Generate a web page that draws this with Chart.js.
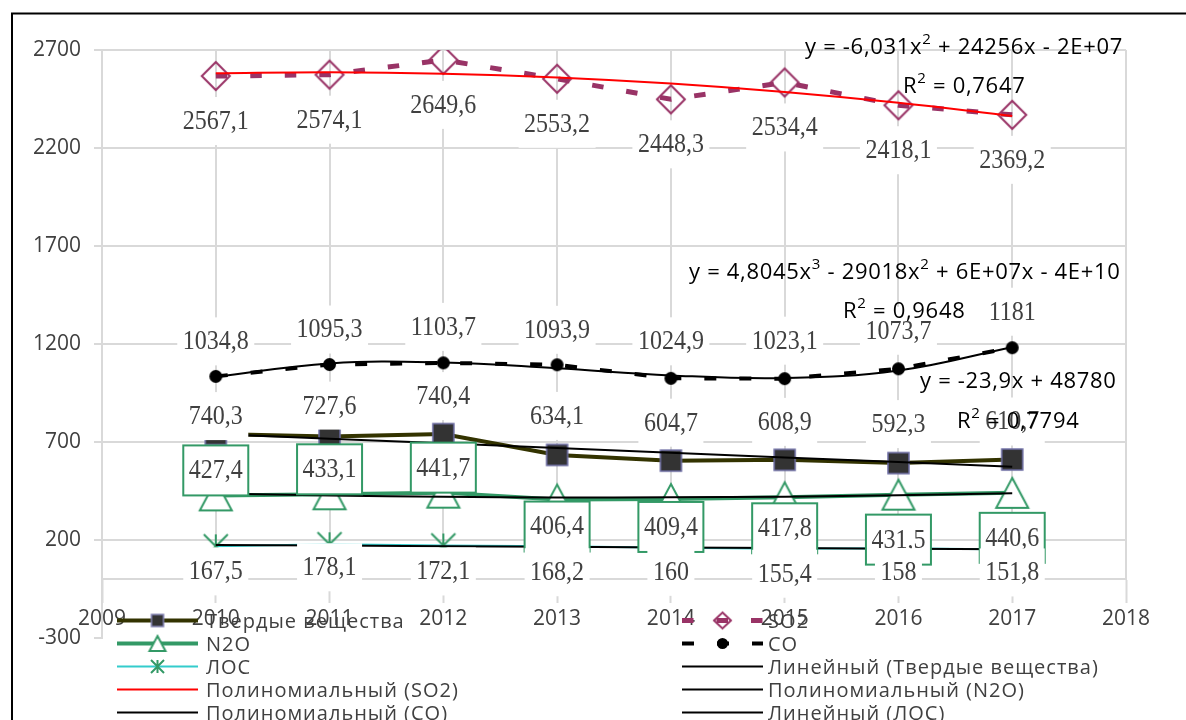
<!DOCTYPE html>
<html>
<head>
<meta charset="utf-8">
<script src="https://cdn.jsdelivr.net/npm/chart.js@4.4.1/dist/chart.umd.min.js"></script>
<style>
  body { margin: 0; background: #fff; }
  canvas { display: block; }
</style>
</head>
<body>
<canvas id="myChart" width="1186" height="720"></canvas>
<script>
/* global Chart */

// years on the x axis
const years = [2010, 2011, 2012, 2013, 2014, 2015, 2016, 2017];
// emissions per series
const solids = [740.3, 727.6, 740.4, 634.1, 604.7, 608.9, 592.3, 610.7];
const so2 = [2567.1, 2574.1, 2649.6, 2553.2, 2448.3, 2534.4, 2418.1, 2369.2];
const n2o = [427.4, 433.1, 441.7, 406.4, 409.4, 417.8, 431.5, 440.6];
const co = [1034.8, 1095.3, 1103.7, 1093.9, 1024.9, 1023.1, 1073.7, 1181];
const voc = [167.5, 178.1, 172.1, 168.2, 160, 155.4, 158, 151.8];

const seriesNames = ['Твердые вещества', 'SO2', 'N2O', 'CO', 'ЛОС'];
const trendNames = ['Линейный (Твердые вещества)', 'Полиномиальный (SO2)',
  'Полиномиальный (N2O)', 'Полиномиальный (CO)', 'Линейный (ЛОС)'];

// axis ranges
const xMin = 2009, xMax = 2018;
const yMin = -300, yMax = 2700, yStep = 500;

// trendline equations as shown by the spreadsheet
const eqSO2 = ['y = -6,031x^2 + 24256x - 2E+07', 'R^2 = 0,7647'];
const eqCO = ['y = 4,8045x^3 - 29018x^2 + 6E+07x - 4E+10', 'R^2 = 0,9648'];
const eqSolids = ['y = -23,9x + 48780', 'R^2 = 0,7794'];

const SANS = '"Open Sans", "DejaVu Sans", sans-serif';
const SERIF = '"Liberation Serif", "DejaVu Serif", serif';

function pts(values) {
  return years.map((x, i) => ({ x: x, y: values[i] }));
}

// least squares polynomial, x centred for stability
function polyfit(xs, ys, order) {
  const x0 = xs.reduce((a, b) => a + b, 0) / xs.length;
  const n = order + 1;
  const A = Array.from({ length: n }, () => new Array(n + 1).fill(0));
  xs.forEach((x, k) => {
    const t = x - x0;
    for (let i = 0; i < n; i++) {
      for (let j = 0; j < n; j++) A[i][j] += Math.pow(t, i + j);
      A[i][n] += ys[k] * Math.pow(t, i);
    }
  });
  for (let i = 0; i < n; i++) {
    let p = i;
    for (let r = i + 1; r < n; r++) if (Math.abs(A[r][i]) > Math.abs(A[p][i])) p = r;
    [A[i], A[p]] = [A[p], A[i]];
    for (let r = 0; r < n; r++) {
      if (r === i) continue;
      const f = A[r][i] / A[i][i];
      for (let c = i; c <= n; c++) A[r][c] -= f * A[i][c];
    }
  }
  const coef = A.map((row, i) => row[n] / row[i]);
  return x => coef.reduce((s, c, i) => s + c * Math.pow(x - x0, i), 0);
}

function trend(values, order) {
  const f = polyfit(years, values, order);
  return years.map(x => ({ x: x, y: f(x) }));
}

// marker images
function makeMarker(kind, w, h, fill, stroke, lw) {
  const c = document.createElement('canvas');
  const pad = Math.ceil(lw || 0) + 1;
  c.width = w + pad * 2;
  c.height = h + pad * 2;
  const g = c.getContext('2d');
  g.translate(pad, pad);
  g.lineWidth = lw;
  g.beginPath();
  if (kind === 'square') {
    g.rect(0, 0, w, h);
  } else if (kind === 'diamond') {
    g.moveTo(w / 2, 0); g.lineTo(w, h / 2); g.lineTo(w / 2, h); g.lineTo(0, h / 2); g.closePath();
  } else if (kind === 'triangle') {
    g.moveTo(w / 2, 0); g.lineTo(w, h); g.lineTo(0, h); g.closePath();
  } else if (kind === 'circle') {
    g.arc(w / 2, h / 2, w / 2, 0, Math.PI * 2);
  } else if (kind === 'star') {
    g.moveTo(0, 0); g.lineTo(w, h);
    g.moveTo(w, 0); g.lineTo(0, h);
    g.moveTo(w / 2, 0); g.lineTo(w / 2, h);
  }
  if (fill) { g.fillStyle = fill; g.fill(); }
  if (stroke) { g.strokeStyle = stroke; g.stroke(); }
  return c;
}

const GREEN = '#339966';
const PURPLE = '#993366';

const datasets = [
  {
    label: seriesNames[0], data: pts(solids), order: 10,
    borderColor: '#333300', borderWidth: 4,
    pointStyle: makeMarker('square', 21, 21, '#333333', '#6c6ca3', 1.5),
    legendMarker: makeMarker('square', 12, 12, '#333333', '#7f7fb0', 1.5),
    labelOffsets: [-18, -31, -38, -39, -38, -38, -39, -38]
  },
  {
    label: seriesNames[1], data: pts(so2), order: 9,
    borderColor: PURPLE, borderWidth: 5, borderDash: [11.5, 23],
    pointStyle: makeMarker('diamond', 28, 28, null, PURPLE, 2),
    legendMarker: makeMarker('diamond', 17, 16, null, PURPLE, 2),
    labelOffsets: [45, 45, 45, 45, 45, 45, 45, 45]
  },
  {
    label: seriesNames[2], data: pts(n2o), order: 8,
    borderColor: GREEN, borderWidth: 4,
    pointStyle: makeMarker('triangle', 32, 30, '#ffffff', GREEN, 2),
    legendMarker: makeMarker('triangle', 16, 15, '#ffffff', GREEN, 2),
    labelOffsets: [-25, -25, -25, 27, 28, 31, 45, 45],
    labelBorder: GREEN
  },
  {
    label: seriesNames[3], data: pts(co), order: 7,
    borderColor: '#000000', borderWidth: 4, borderDash: [12, 23],
    pointStyle: makeMarker('circle', 13, 13, '#000000', null, 0),
    legendMarker: makeMarker('circle', 11, 11, '#000000', null, 0),
    labelOffsets: [-35, -35, -36, -35, -37, -38, -38, -36]
  },
  {
    label: seriesNames[4], data: pts(voc), order: 6,
    borderColor: '#33cccc', borderWidth: 2,
    pointStyle: makeMarker('star', 24, 24, null, GREEN, 2),
    legendMarker: makeMarker('star', 13, 13, null, GREEN, 2),
    labelOffsets: [25, 23, 26, 26, 24, 25, 24, 23]
  },
  { label: trendNames[0], data: trend(solids, 1), order: 5, borderColor: '#000000', borderWidth: 2 },
  { label: trendNames[1], data: trend(so2, 2), order: 4, borderColor: '#ff0000', borderWidth: 2, tension: 0.4 },
  { label: trendNames[2], data: trend(n2o, 2), order: 3, borderColor: '#000000', borderWidth: 2, tension: 0.4 },
  { label: trendNames[3], data: trend(co, 3), order: 2, borderColor: '#000000', borderWidth: 2, tension: 0.4 },
  { label: trendNames[4], data: trend(voc, 1), order: 1, borderColor: '#000000', borderWidth: 2 }
];

datasets.forEach(ds => {
  ds.fill = false;
  ds.pointRadius = ds.pointStyle ? 12 : 0;
  ds.tension = ds.tension || 0;
});

function fmt(v) {
  return String(v).replace('.', ',');
}

// white frame + black border round the chart
const framePlugin = {
  id: 'frame',
  beforeDraw(chart) {
    const ctx = chart.ctx;
    ctx.save();
    ctx.fillStyle = '#fff';
    ctx.fillRect(0, 0, chart.width, chart.height);
    ctx.strokeStyle = '#000';
    ctx.lineWidth = 2;
    ctx.strokeRect(12, 13.5, 1300, 900);
    ctx.restore();
  },
  beforeDatasetsDraw(chart) {
    // vertical gridlines stop at the x axis (y = 0)
    const ctx = chart.ctx;
    const xs = chart.scales.x, ys = chart.scales.y;
    const top = ys.getPixelForValue(yMax);
    const bottom = ys.getPixelForValue(0);
    ctx.save();
    ctx.strokeStyle = '#d9d9d9';
    ctx.lineWidth = 2;
    for (let v = xMin + 1; v <= xMax; v++) {
      const x = Math.round(xs.getPixelForValue(v));
      ctx.beginPath();
      ctx.moveTo(x, top);
      ctx.lineTo(x, bottom);
      ctx.stroke();
    }
    ctx.restore();
  }
};

// value labels with white boxes
const labelPlugin = {
  id: 'valueLabels',
  afterDatasetsDraw(chart) {
    const ctx = chart.ctx;
    ctx.save();
    ctx.font = '24px ' + SERIF;
    ctx.textAlign = 'center';
    ctx.textBaseline = 'middle';
    chart.data.datasets.forEach((ds, i) => {
      if (!ds.labelOffsets) return;
      const meta = chart.getDatasetMeta(i);
      meta.data.forEach((pt, k) => {
        const text = fmt(ds.data[k].y);
        const cx = pt.x;
        const cy = pt.y + ds.labelOffsets[k];
        const w = ctx.measureText(text).width + 11;
        const h = ds.labelBorder ? 50 : 48;
        ctx.fillStyle = '#fff';
        ctx.fillRect(cx - w / 2, cy - h / 2, w, h);
        if (ds.labelBorder) {
          ctx.strokeStyle = ds.labelBorder;
          ctx.lineWidth = 2;
          ctx.strokeRect(cx - w / 2, cy - h / 2, w, h);
        }
        ctx.fillStyle = '#404040';
        ctx.save();
        ctx.translate(cx, cy + 1);
        ctx.scale(1, 1.1);
        ctx.fillText(text, 0, 0);
        ctx.restore();
      });
    });
    ctx.restore();
  }
};

function drawRich(ctx, text, x, y, size) {
  const parts = text.split(/\^(\d)/);
  let cx = x;
  parts.forEach((p, i) => {
    const sup = i % 2 === 1;
    ctx.font = (sup ? Math.round(size * 0.7) : size) + 'px ' + SANS;
    ctx.fillText(p, cx, sup ? y - size * 0.36 : y);
    cx += ctx.measureText(p).width;
  });
}

// trendline equations
const equationPlugin = {
  id: 'equations',
  afterDatasetsDraw(chart) {
    const ctx = chart.ctx;
    ctx.save();
    ctx.fillStyle = '#000';
    ctx.textAlign = 'left';
    ctx.textBaseline = 'middle';
    ctx.letterSpacing = '0.7px';
    const spots = [
      [eqSO2[0], 805, 48], [eqSO2[1], 903, 87],
      [eqCO[0], 689, 273], [eqCO[1], 843, 312],
      [eqSolids[0], 920, 382], [eqSolids[1], 957, 422]
    ];
    spots.forEach(s => drawRich(ctx, s[0], s[1], s[2], 22));
    ctx.restore();
  }
};

// two column legend overlapping the axis labels
const legendPlugin = {
  id: 'bottomLegend',
  afterDraw(chart) {
    const ctx = chart.ctx;
    const colX = [117, 682];
    const textX = [206, 768];
    ctx.save();
    ctx.textAlign = 'left';
    ctx.textBaseline = 'middle';
    chart.data.datasets.forEach((ds, i) => {
      const col = i % 2;
      const row = Math.floor(i / 2);
      const y = 620.5 + row * 23;
      const x0 = colX[col];
      ctx.beginPath();
      ctx.setLineDash(ds.borderDash || []);
      ctx.lineWidth = ds.borderWidth;
      ctx.strokeStyle = ds.borderColor;
      ctx.moveTo(x0, y);
      ctx.lineTo(x0 + 81, y);
      ctx.stroke();
      ctx.setLineDash([]);
      if (ds.legendMarker) {
        const m = ds.legendMarker;
        ctx.drawImage(m, x0 + 40.5 - m.width / 2, y - m.height / 2);
      }
      ctx.fillStyle = '#404040';
      ctx.font = '20px ' + SANS;
      ctx.letterSpacing = '1px';
      ctx.fillText(ds.label, textX[col], y + 2);
    });
    ctx.restore();
  }
};

const tickFont = { family: SANS, size: 21 };

const ctx = document.getElementById('myChart').getContext('2d');
const chart = new Chart(ctx, {
  type: 'line',
  data: { datasets: datasets },
  options: {
    responsive: false,
    animation: false,
    devicePixelRatio: 1,
    events: [],
    layout: { padding: { left: 0, top: 50, right: 60, bottom: 82 } },
    plugins: {
      legend: { display: false },
      tooltip: { enabled: false }
    },
    scales: {
      x: {
        type: 'linear',
        min: xMin,
        max: xMax,
        position: { y: 0 },
        ticks: {
          stepSize: 1,
          autoSkip: false,
          maxRotation: 0,
          padding: 4,
          color: '#404040',
          font: tickFont,
          callback: v => String(v)
        },
        grid: { drawOnChartArea: false, tickLength: 23, tickColor: '#d9d9d9', tickWidth: 2 },
        border: { color: '#d9d9d9', width: 2 }
      },
      y: {
        type: 'linear',
        min: yMin,
        max: yMax,
        ticks: {
          stepSize: yStep,
          padding: 13,
          color: '#404040',
          font: tickFont,
          callback: v => String(v)
        },
        grid: {
          color: c => (c.tick && c.tick.value < 0 ? 'rgba(0,0,0,0)' : '#d9d9d9'),
          lineWidth: 2,
          tickLength: 8,
          tickColor: '#d9d9d9'
        },
        border: { color: '#d9d9d9', width: 2 },
        afterFit: s => { s.width = 102; }
      }
    }
  },
  plugins: [framePlugin, labelPlugin, equationPlugin, legendPlugin]
});
console.log(chart);
</script>
</body>
</html>
